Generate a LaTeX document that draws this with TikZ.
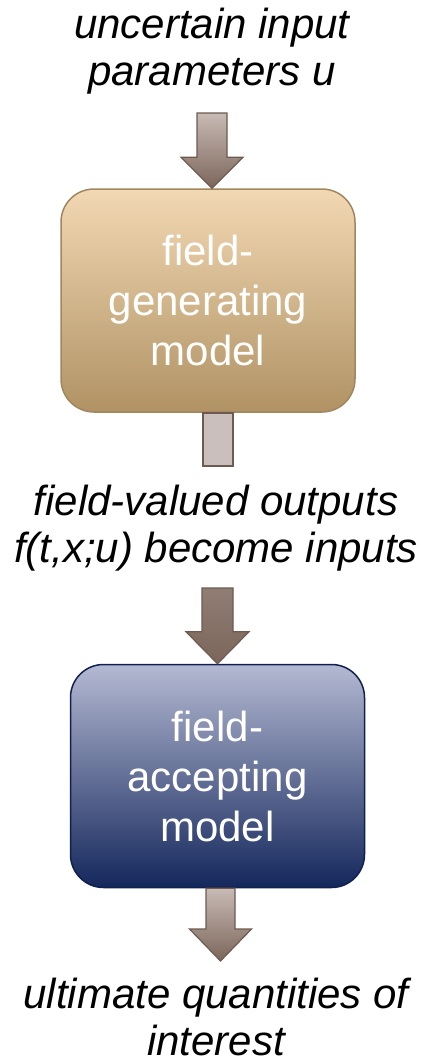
\documentclass[tikz,border=0pt]{standalone}
\usepackage{fontspec}
\setmainfont{Liberation Sans}
\usetikzlibrary{positioning, calc}

\definecolor{arrowtop}{HTML}{C8BAB5}
\definecolor{arrowbottom}{HTML}{7C665B}
\definecolor{arrowedge}{HTML}{6E5A50}
\definecolor{gentop}{HTML}{F2D8B3}
\definecolor{genbottom}{HTML}{B09264}
\definecolor{genedge}{HTML}{A08760}
\definecolor{acctop}{HTML}{B4B9D2}
\definecolor{accmid}{HTML}{7880A5}
\definecolor{accbottom}{HTML}{14275C}
\definecolor{accedge}{HTML}{10214F}
\definecolor{stubfill}{HTML}{CBBFBD}

\begin{document}
\begin{tikzpicture}[
    x=1pt, y=1pt,
    caption/.style={
        align=center, inner sep=0pt,
        font=\fontsize{42}{47}\selectfont\itshape
    },
    model/.style={
        rounded corners=33pt, line width=1.5pt,
        minimum width=294pt, minimum height=223pt,
        align=center, text=white, shading=axis,
        font=\fontsize{42}{50}\selectfont
    },
    fatarrow/.style={
        draw=arrowedge, line width=1.2pt, shading=axis,
        top color=arrowtop, bottom color=arrowbottom
    },
    stub/.style={draw=arrowedge, line width=1.5pt, fill=stubfill}
]
    \useasboundingbox (0,0) rectangle (442,-1063);

    % Texts and models ===========================
    \node[caption, anchor=north] (params) at (212,-8) {uncertain input\\parameters u};

    \node[model, draw=genedge, top color=gentop, bottom color=genbottom] (genmodel) at (208,-300.5) {field-\\generating\\model};

    \node[caption, anchor=north] (fields) at (216,-484.5) {field-valued outputs\\f(t,x;u) become inputs};

    \node[model, draw=accedge, top color=acctop, middle color=accmid, bottom color=accbottom] (accmodel) at (217.5,-776) {field-\\accepting\\model};

    \node[caption, anchor=north] (qoi) at (216,-977.5) {ultimate quantities of\\interest};

    % Arrow ends ====================
    \coordinate (in1) at (212,-113);
    \coordinate (in2) at (217.5,-588);
    \coordinate (out) at (220.5,-961);

    % Block arrows ====================
    % From the inputs to the generating model
    \path[fatarrow] let \p1=(in1), \p2=(genmodel.north) in
        (\x1-15pt,\y1) -- (\x1+15pt,\y1) -- (\x1+15pt,\y2+31pt) -- (\x1+31pt,\y2+31pt)
        -- (\x1,\y2) -- (\x1-31pt,\y2+31pt) -- (\x1-15pt,\y2+31pt) -- cycle;

    % Output stub of the generating model
    \draw[stub] ([xshift=-5pt]genmodel.south) rectangle ++(30,-53);

    % From the fields to the accepting model
    \path[fatarrow, top color=arrowbottom!85!white, bottom color=arrowbottom] let \p1=(in2), \p2=(accmodel.north) in
        (\x1-15.5pt,\y1) -- (\x1+15.5pt,\y1) -- (\x1+15.5pt,\y2+32pt) -- (\x1+31.5pt,\y2+32pt)
        -- (\x1,\y2) -- (\x1-31.5pt,\y2+32pt) -- (\x1-15.5pt,\y2+32pt) -- cycle;

    % From the accepting model to the quantities of interest
    \path[fatarrow] let \p1=([xshift=3pt]accmodel.south), \p2=(out) in
        (\x1-14.5pt,\y1) -- (\x1+14.5pt,\y1) -- (\x1+14.5pt,\y2+32pt) -- (\x1+31pt,\y2+32pt)
        -- (\x1,\y2) -- (\x1-31pt,\y2+32pt) -- (\x1-14.5pt,\y2+32pt) -- cycle;

\end{tikzpicture}
\end{document}
